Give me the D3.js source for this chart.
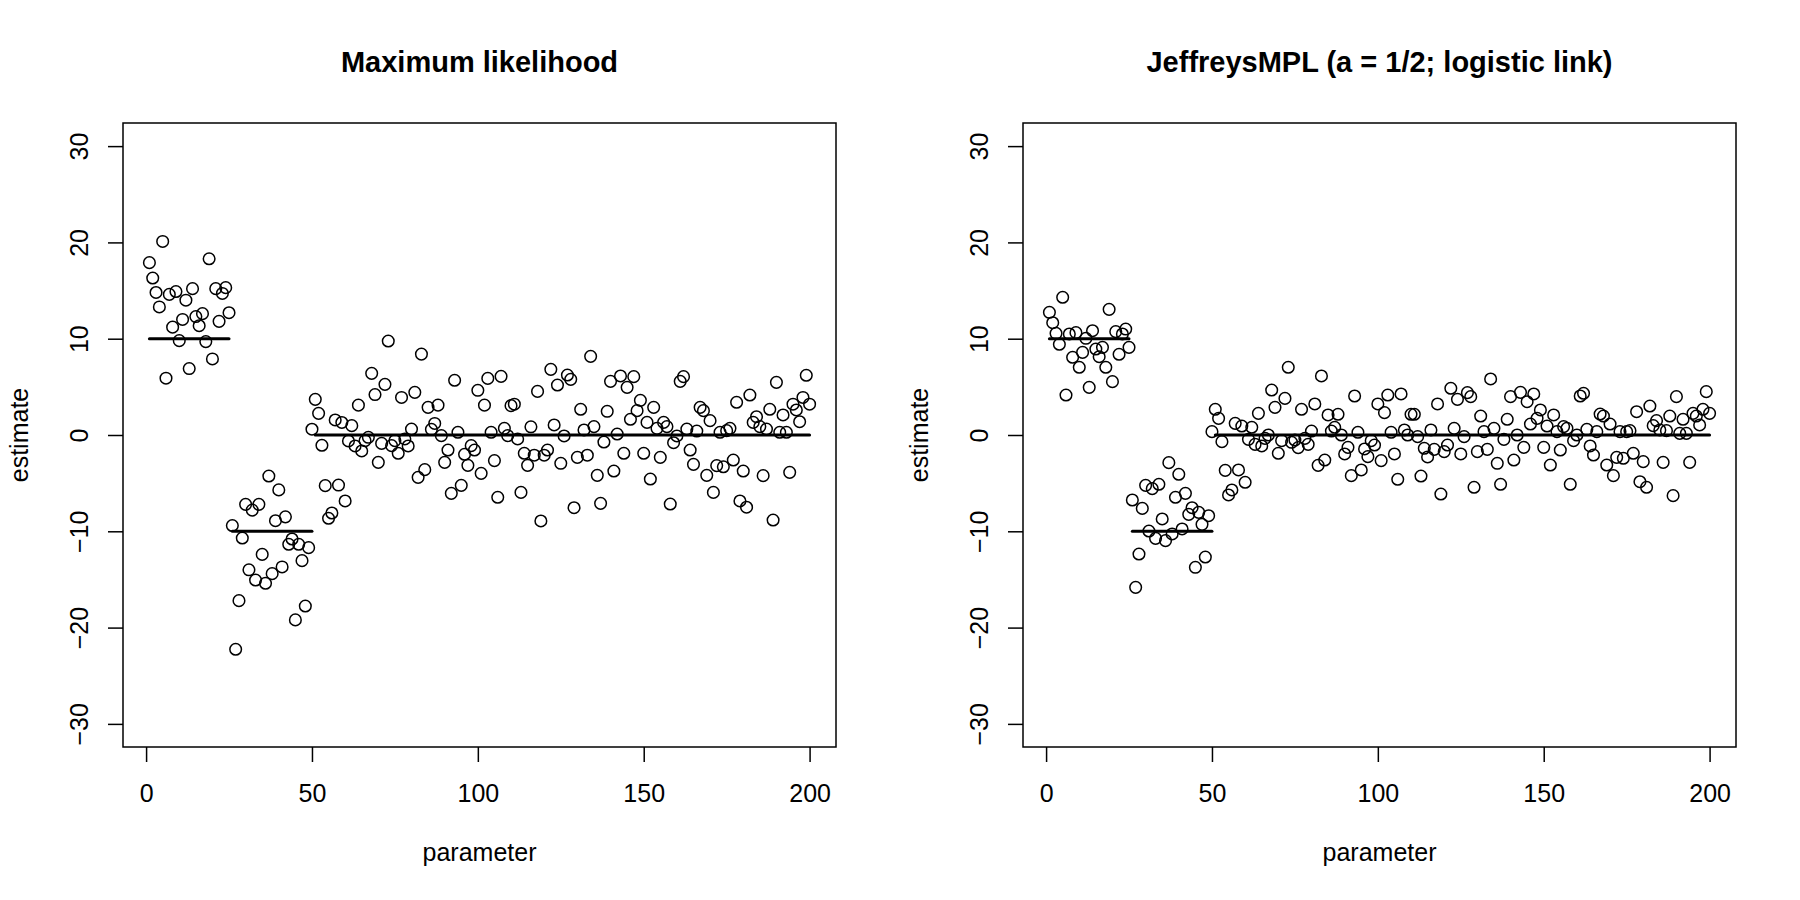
<!DOCTYPE html>
<html>
<head>
<meta charset="utf-8">
<script src="https://cdn.jsdelivr.net/npm/d3@7"></script>
<style>
  html, body { margin: 0; padding: 0; background: #fff; }
  svg { display: block; }
  text { font-family: "Liberation Sans", Arial, Helvetica, sans-serif; fill: #000; }
</style>
</head>
<body>
<svg id="chart" width="1800" height="900"></svg>
<script>
// ---- data ----
const mlEstimates = [
  17.9, 16.3, 14.8, 13.3, 20.1, 5.9, 14.6, 11.2, 14.9, 9.8,
  12.0, 14.0, 6.9, 15.2, 12.3, 11.35, 12.6, 9.7, 18.3, 7.9,
  15.2, 11.8, 14.7, 15.3, 12.7, -9.4, -22.25, -17.2, -10.7, -7.2,
  -14.0, -7.8, -15.06, -7.2, -12.4, -15.4, -4.26, -14.4, -8.9, -5.7,
  -13.7, -8.5, -11.35, -10.8, -19.2, -11.35, -13.05, -17.76, -11.7, 0.6,
  3.7, 2.25, -1.07, -5.26, -8.65, -8.1, 1.56, -5.2, 1.3, -6.85,
  -0.62, 0.97, -1.14, 3.1, -1.66, -0.59, -0.24, 6.4, 4.2, -2.84,
  -0.87, 5.26, 9.76, -1.1, -0.59, -1.9, 3.9, -0.41, -1.14, 0.62,
  4.43, -4.4, 8.4, -3.6, 2.87, 0.59, 1.2, 3.1, -0.07, -2.84,
  -1.56, -6.06, 5.68, 0.28, -5.23, -2.0, -3.15, -1.1, -1.56, 4.64,
  -3.98, 3.1, 5.88, 0.28, -2.66, -6.47, 6.09, 0.69, -0.07, 3.05,
  3.2, -0.41, -5.96, -1.9, -3.15, 0.85, -2.1, 4.53, -8.93, -2.1,
  -1.56, 6.82, 1.04, 5.19, -2.94, -0.1, 6.23, 5.78, -7.55, -2.32,
  2.67, 0.52, -2.1, 8.17, 0.87, -4.19, -7.1, -0.73, 2.46, 5.57,
  -3.74, 0.1, 6.13, -1.9, 4.95, 1.63, 6.06, 2.53, 3.6, -1.9,
  1.31, -4.57, 2.87, 0.69, -2.32, 1.31, 0.87, -7.17, -0.8, -0.1,
  5.57, 6.06, 0.62, -1.56, -3.05, 0.41, 2.87, 2.53, -4.19, 1.49,
  -5.96, -3.18, 0.28, -3.3, 0.45, 0.69, -2.6, 3.4, -6.85, -3.74,
  -7.5, 4.15, 1.31, 1.9, 0.87, -4.22, 0.62, 2.67, -8.83, 5.47,
  0.28, 2.08, 0.28, -3.88, 3.2, 2.6, 1.38, 3.9, 6.2, 3.2
];
const mplEstimates = [
  12.74, 11.66, 10.56, 9.42, 14.3, 4.15, 10.49, 8.07, 10.63, 7.03,
  8.58, 10.04, 4.95, 10.83, 8.93, 8.13, 9.1, 7.03, 13.05, 5.54,
  10.73, 8.38, 10.49, 11.0, 9.1, -6.75, -15.82, -12.36, -7.62, -5.23,
  -9.97, -5.57, -10.73, -5.12, -8.72, -10.97, -2.87, -10.28, -6.47, -4.08,
  -9.76, -6.06, -8.24, -7.55, -13.74, -8.03, -9.28, -12.67, -8.38, 0.35,
  2.67, 1.73, -0.69, -3.67, -6.23, -5.71, 1.21, -3.63, 0.93, -4.91,
  -0.45, 0.8, -0.97, 2.25, -1.14, -0.35, 0.0, 4.67, 2.87, -1.9,
  -0.59, 3.8, 7.03, -0.76, -0.52, -1.31, 2.67, -0.35, -0.97, 0.41,
  3.22, -3.15, 6.13, -2.6, 2.08, 0.41, 0.8, 2.15, 0.0, -1.97,
  -1.28, -4.22, 4.05, 0.28, -3.63, -1.45, -2.25, -0.59, -1.04, 3.22,
  -2.66, 2.32, 4.15, 0.28, -1.97, -4.6, 4.26, 0.52, 0.0, 2.15,
  2.15, -0.17, -4.26, -1.38, -2.28, 0.52, -1.49, 3.22, -6.13, -1.73,
  -1.04, 4.85, 0.69, 3.7, -1.97, -0.17, 4.4, 3.98, -5.43, -1.73,
  1.97, 0.35, -1.49, 5.82, 0.69, -2.94, -5.12, -0.45, 1.63, 3.98,
  -2.6, 0.0, 4.43, -1.28, 3.46, 1.14, 4.26, 1.73, 2.6, -1.28,
  0.93, -3.12, 2.08, 0.35, -1.56, 0.87, 0.69, -5.12, -0.59, 0.0,
  4.05, 4.33, 0.59, -1.14, -2.08, 0.35, 2.18, 1.97, -3.12, 1.14,
  -4.22, -2.32, 0.35, -2.42, 0.35, 0.45, -1.9, 2.42, -4.85, -2.77,
  -5.43, 3.01, 0.97, 1.49, 0.52, -2.84, 0.45, 1.97, -6.3, 3.98,
  0.17, 1.63, 0.17, -2.84, 2.25, 1.97, 1.04, 2.67, 4.5, 2.25
];
const truthLevels = [10, -10, 0];
const truthStart  = [1, 26, 51];
const truthEnd    = [25, 50, 200];
const xTicks = [0, 50, 100, 150, 200];
const yTicks = [-30, -20, -10, 0, 10, 20, 30];
const panelTitles = ["Maximum likelihood", "JeffreysMPL (a = 1/2; logistic link)"];
const xLabel = "parameter";
const yLabel = "estimate";

// ---- layout ----
const svg = d3.select("#chart");
const panelW = 900;
const plot = { left: 123, right: 836, top: 123, bottom: 747 };
const n = mlEstimates.length;
const xPad = 0.04 * (n - 1);
const yPad = 0.04 * 60;

const x = d3.scaleLinear().domain([1 - xPad, n + xPad]).range([plot.left, plot.right]);
const y = d3.scaleLinear().domain([-30 - yPad, 30 + yPad]).range([plot.bottom, plot.top]);

const panels = [mlEstimates, mplEstimates];

panels.forEach((vals, p) => {
  const g = svg.append("g").attr("transform", `translate(${p * panelW},0)`);
  const pts = vals.map((v, i) => ({ idx: i + 1, v }));

  // points
  g.append("g").selectAll("circle").data(pts).join("circle")
    .attr("cx", d => x(d.idx))
    .attr("cy", d => y(d.v))
    .attr("r", 5.8)
    .attr("fill", "none")
    .attr("stroke", "#000")
    .attr("stroke-width", 1.5);

  // true values
  g.append("g").selectAll("line").data(truthLevels).join("line")
    .attr("x1", (d, i) => x(truthStart[i]))
    .attr("x2", (d, i) => x(truthEnd[i]))
    .attr("y1", d => y(d))
    .attr("y2", d => y(d))
    .attr("stroke", "#000")
    .attr("stroke-width", 3)
    .attr("stroke-linecap", "round");

  // box
  g.append("rect")
    .attr("x", plot.left).attr("y", plot.top)
    .attr("width", plot.right - plot.left).attr("height", plot.bottom - plot.top)
    .attr("fill", "none").attr("stroke", "#000").attr("stroke-width", 1.5);

  // x axis
  const xa = g.append("g").attr("transform", `translate(0,${plot.bottom})`)
    .call(d3.axisBottom(x).tickValues(xTicks).tickSize(15).tickSizeOuter(0).tickFormat(d3.format("d")));
  xa.select(".domain").remove();
  xa.selectAll(".tick line").attr("stroke", "#000").attr("stroke-width", 1.5);
  xa.selectAll(".tick text").attr("y", 55).attr("dy", null)
    .style("font-size", "25px").style("font-family", "'Liberation Sans', Arial, sans-serif").attr("fill", "#000");

  // y axis
  const ya = g.append("g").attr("transform", `translate(${plot.left},0)`)
    .call(d3.axisLeft(y).tickValues(yTicks).tickSize(15).tickSizeOuter(0).tickFormat(d3.format("d")));
  ya.select(".domain").remove();
  ya.selectAll(".tick line").attr("stroke", "#000").attr("stroke-width", 1.5);
  ya.selectAll(".tick text")
    .attr("transform", "rotate(-90)")
    .attr("x", 0).attr("y", -35).attr("dy", null)
    .attr("text-anchor", "middle")
    .style("font-size", "25px").style("font-family", "'Liberation Sans', Arial, sans-serif").attr("fill", "#000");

  const cx = (plot.left + plot.right) / 2;
  const cy = (plot.top + plot.bottom) / 2;

  // title
  g.append("text").attr("x", cx).attr("y", 72)
    .attr("text-anchor", "middle")
    .style("font-size", "29px").style("font-weight", "bold")
    .text(panelTitles[p]);

  // axis labels
  g.append("text").attr("x", cx).attr("y", 861)
    .attr("text-anchor", "middle").style("font-size", "25px")
    .text(xLabel);
  g.append("text")
    .attr("transform", `translate(28,${cy}) rotate(-90)`)
    .attr("text-anchor", "middle").style("font-size", "25px")
    .text(yLabel);
});
</script>
</body>
</html>
